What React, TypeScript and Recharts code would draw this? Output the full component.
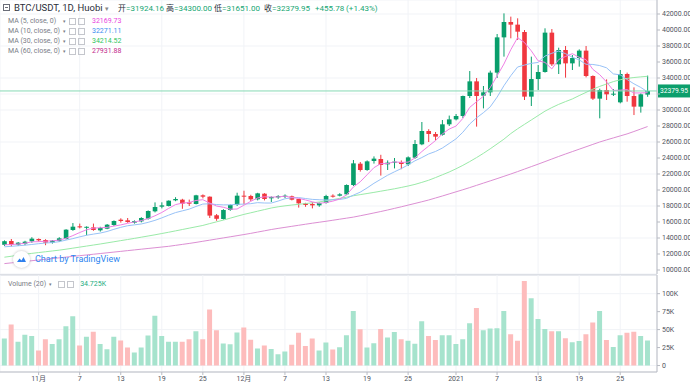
import React from 'react';
import { ComposedChart, Bar, Line, XAxis, YAxis, CartesianGrid, ReferenceLine, Cell } from 'recharts';

const dates = [
  '10-27', '10-28', '10-29', '10-30', '10-31',
  '11-01', '11-02', '11-03', '11-04', '11-05', '11-06', '11-07', '11-08', '11-09', '11-10',
  '11-11', '11-12', '11-13', '11-14', '11-15', '11-16', '11-17', '11-18', '11-19', '11-20',
  '11-21', '11-22', '11-23', '11-24', '11-25', '11-26', '11-27', '11-28', '11-29', '11-30',
  '12-01', '12-02', '12-03', '12-04', '12-05', '12-06', '12-07', '12-08', '12-09', '12-10',
  '12-11', '12-12', '12-13', '12-14', '12-15', '12-16', '12-17', '12-18', '12-19', '12-20',
  '12-21', '12-22', '12-23', '12-24', '12-25', '12-26', '12-27', '12-28', '12-29', '12-30', '12-31',
  '01-01', '01-02', '01-03', '01-04', '01-05', '01-06', '01-07', '01-08', '01-09', '01-10',
  '01-11', '01-12', '01-13', '01-14', '01-15', '01-16', '01-17', '01-18', '01-19', '01-20',
  '01-21', '01-22', '01-23', '01-24', '01-25', '01-26', '01-27', '01-28', '01-29',
];

const opens = [
  13150, 13625, 13170, 13290, 13580, 13875, 13750, 13415, 13625, 13875,
  15000, 15460, 15330, 15330, 14960, 15165, 15625, 16290, 16210, 15915,
  16080, 16415, 17335, 17915, 18000, 18710, 18790, 18460, 18250, 19335,
  19165, 16840, 16375, 17500, 18125, 19290, 19250, 18835, 19540, 18960,
  19080, 19125, 19210, 18875, 18330, 18250, 18080, 18375, 19290, 19290,
  19460, 20625, 23290, 22500, 23625, 23875, 23210, 23420, 23500, 23210,
  24040, 25710, 27375, 27000, 26900, 28210, 28830, 29250, 31750, 33580,
  31790, 32210, 34670, 39080, 41000, 40670, 39750, 31670, 33870, 34750,
  39670, 35710, 37500, 35830, 36500, 37420, 34250, 31420, 32500, 31960,
  30960, 34500, 31750, 30420, 31924.16,
];
const highs = [
  13700, 13875, 13500, 13650, 14100, 13950, 13850, 13750, 14100, 15100,
  15870, 15800, 15460, 15800, 15400, 15750, 16200, 16460, 16500, 16200,
  16600, 17450, 18450, 18460, 18700, 19100, 18900, 18800, 19400, 19450,
  19200, 17000, 17600, 18200, 19660, 19910, 19400, 19650, 19600, 19200,
  19350, 19450, 19300, 18900, 18400, 18500, 18450, 19400, 19460, 19600,
  20700, 23750, 23500, 23700, 24200, 24400, 23700, 24000, 23700, 24200,
  26250, 28500, 27600, 27250, 28750, 29300, 29500, 31800, 34870, 34000,
  33000, 34920, 39500, 42080, 41670, 41460, 40000, 36670, 35620, 40210,
  40120, 37790, 38000, 36870, 37580, 38000, 34330, 32670, 33830, 32600,
  35000, 34670, 32830, 32080, 34300,
];
const lows = [
  13000, 12950, 13000, 13100, 13400, 13550, 13100, 13300, 13500, 13800,
  14900, 15200, 14340, 14900, 14800, 15100, 15500, 15920, 15900, 15800,
  15950, 16300, 17200, 17700, 17950, 18600, 17650, 18000, 18200, 18950,
  16500, 16150, 16300, 17400, 18000, 18210, 18600, 18700, 18700, 18500,
  18900, 19000, 18700, 17800, 17900, 17700, 17900, 18300, 19050, 19200,
  19350, 20500, 22300, 22400, 23300, 21800, 22500, 22700, 22600, 23000,
  23900, 25600, 26000, 26200, 26800, 28000, 28700, 29000, 31500, 27920,
  30200, 31750, 34000, 36670, 38960, 38750, 31250, 30500, 32500, 34670,
  35500, 34500, 34040, 35000, 35420, 34080, 31250, 28960, 31250, 31750,
  30830, 31040, 29370, 29670, 31651,
];
const closes = [
  13600, 13125, 13415, 13540, 13920, 13710, 13415, 13665, 13960, 15040,
  15415, 15330, 15400, 15000, 15250, 15665, 16125, 16125, 16000, 16125,
  16500, 17375, 17875, 18080, 18665, 18875, 18290, 18290, 19335, 19165,
  16800, 16400, 17500, 18125, 19290, 19170, 18835, 19580, 18875, 19125,
  19250, 19290, 18790, 18330, 18125, 18080, 18375, 19250, 19210, 19460,
  20625, 23330, 22500, 23580, 23920, 23125, 23420, 23540, 23250, 24080,
  25750, 27375, 27000, 26670, 28210, 28830, 29250, 31750, 33580, 31750,
  32210, 34670, 39080, 41000, 40670, 39790, 31670, 33870, 34750, 39670,
  35710, 37500, 35830, 36500, 37420, 34250, 31420, 32500, 31960, 32040,
  34500, 31750, 30420, 31960, 32379.95,
];

// volume in thousands
const volumes = [
  37.5, 57, 33, 43, 41, 21, 36.5, 30, 36.5, 54.6,
  68.5, 27.8, 40, 47, 30, 22.7, 40, 35, 25, 18,
  25, 41.7, 69.4, 41, 33, 33, 33, 36.5, 47.7, 36.5,
  78, 49, 30.5, 29.6, 46, 52.8, 36, 23.6, 27.8, 23,
  15.7, 19.4, 29, 45.8, 27.3, 37.5, 20.8, 32, 22.2, 25.5,
  42.3, 76, 50.4, 25, 31, 51, 39, 46.6, 36.5, 34.5,
  30.4, 61.5, 41, 35.5, 42, 42, 30, 36.5, 59, 80,
  49, 51.7, 52, 76, 43.4, 34.5, 117.6, 93.5, 64.7, 50.8,
  47.6, 47.6, 37.8, 32.3, 34, 43.4, 60, 76, 35.5, 25.7,
  42, 45.6, 47, 41, 34.725,
];

const ma5 = [
  13146, 13181, 13244, 13342, 13520, 13542, 13600, 13650, 13734, 13958,
  14299, 14682, 15029, 15237, 15279, 15329, 15488, 15633, 15833, 16008,
  16175, 16425, 16775, 17191, 17699, 18174, 18357, 18440, 18691, 18791,
  18376, 17998, 17840, 17598, 17623, 18097, 18584, 19000, 19150, 19117,
  19133, 19224, 19066, 18957, 18757, 18523, 18340, 18432, 18608, 18875,
  19384, 20375, 21025, 21899, 22791, 23291, 23309, 23517, 23451, 23483,
  24008, 24799, 25491, 26175, 27001, 27617, 27992, 28942, 30324, 31032,
  31708, 32792, 34258, 35742, 37526, 39042, 38442, 37400, 36150, 35950,
  35134, 36300, 36692, 37042, 36592, 36300, 35084, 34418, 33510, 32434,
  32484, 32550, 32134, 32134, 32169.73,
];
const ma10 = [
  12900, 12960, 13030, 13100, 13190, 13290, 13370, 13430, 13540, 13739,
  13920, 14141, 14340, 14486, 14619, 14814, 15085, 15331, 15535, 15644,
  15752, 15957, 16204, 16512, 16854, 17175, 17391, 17608, 17941, 18245,
  18275, 18178, 18140, 18145, 18207, 18237, 18291, 18420, 18374, 18370,
  18615, 18904, 19033, 19054, 18937, 18828, 18782, 18749, 18783, 18816,
  18954, 19358, 19729, 20254, 20833, 21338, 21842, 22271, 22675, 23137,
  23650, 24054, 24504, 24813, 25242, 25813, 26396, 27217, 28250, 29017,
  29663, 30392, 31600, 33033, 34279, 35375, 35617, 35829, 35946, 36738,
  37088, 37371, 37046, 36596, 36271, 35717, 35692, 35555, 35276, 34513,
  34392, 33817, 33276, 32822, 32271.11,
];
const ma30 = [
  11600, 11720, 11840, 11960, 12080, 12180, 12280, 12380, 12480, 12600,
  12730, 12860, 12990, 13120, 13250, 13390, 13530, 13670, 13810, 13950,
  14100, 14250, 14400, 14560, 14720, 14890, 15060, 15230, 15400, 15570,
  15800, 16020, 16240, 16480, 16720, 16950, 17150, 17350, 17550, 17750,
  17900, 18020, 18120, 18210, 18300, 18400, 18500, 18650, 18800, 18950,
  19100, 19280, 19420, 19560, 19700, 19850, 20000, 20150, 20320, 20500,
  20700, 20950, 21220, 21550, 21900, 22250, 22650, 23080, 23550, 24050,
  24580, 25150, 25750, 26350, 27050, 27650, 28200, 28750, 29300, 29850,
  30300, 30700, 31050, 31380, 31800, 32200, 32600, 32950, 33250, 33550,
  33780, 33950, 34060, 34140, 34214.52,
];
const ma60 = [
  10800, 10890, 10980, 11070, 11160, 11250, 11340, 11430, 11520, 11610,
  11700, 11790, 11880, 11970, 12060, 12150, 12240, 12330, 12420, 12510,
  12600, 12690, 12780, 12870, 12960, 13080, 13200, 13320, 13450, 13590,
  13730, 13870, 14010, 14150, 14290, 14430, 14580, 14740, 14900, 15060,
  15200, 15330, 15460, 15590, 15720, 15850, 15970, 16090, 16220, 16350,
  16480, 16610, 16780, 16950, 17130, 17310, 17500, 17700, 17900, 18110,
  18320, 18530, 18750, 19000, 19250, 19510, 19770, 20030, 20300, 20580,
  20860, 21140, 21420, 21710, 22000, 22300, 22610, 22920, 23230, 23550,
  23870, 24190, 24500, 24800, 25100, 25400, 25700, 26000, 26260, 26510,
  26760, 27010, 27310, 27620, 27931.88,
];

const priceTicks = [10000, 12000, 14000, 16000, 18000, 20000, 22000, 24000, 26000, 28000, 30000, 32000, 34000, 36000, 38000, 40000, 42000];
const volumeTicks = [0, 25, 50, 75, 100];
const xTickDates = ['11-01', '11-07', '11-13', '11-19', '11-25', '12-01', '12-07', '12-13', '12-19', '12-25', '01-01', '01-07', '01-13', '01-19', '01-25'];
const xTickLabels = ['11月', '7', '13', '19', '25', '12月', '7', '13', '19', '25', '2021', '7', '13', '19', '25'];

const lastPrice = 32379.95;

const UP = '#089e6b';
const DOWN = '#f0373f';
const VOL_UP = '#a6e3cd';
const VOL_DOWN = '#fdbcbc';
const GRID = '#f1f3f7';
const AXIS = '#b8bbc3';
const FONT = 'Roboto, "Noto Sans CJK SC", sans-serif';

const rows = dates.map((d, i) => ({
  date: d,
  open: opens[i],
  high: highs[i],
  low: lows[i],
  close: closes[i],
  range: [lows[i], highs[i]],
  volume: volumes[i],
  ma5: ma5[i],
  ma10: ma10[i],
  ma30: ma30[i],
  ma60: ma60[i],
}));

const Candle = (props: any) => {
  const { x, y, width, height, payload } = props;
  const { open, close, high, low } = payload;
  const color = close >= open ? UP : DOWN;
  const span = high - low || 1;
  const toY = (v: number) => y + ((high - v) / span) * height;
  const cx = x + width / 2;
  const top = toY(Math.max(open, close));
  const bottom = toY(Math.min(open, close));
  const bw = width * 0.66;
  return (
    <g>
      <line x1={cx} x2={cx} y1={y} y2={y + height} stroke={color} strokeWidth={1} />
      <rect x={cx - bw / 2} y={top} width={bw} height={Math.max(bottom - top, 1)} fill={color} />
    </g>
  );
};

const PriceTag = (props: any) => {
  const { viewBox } = props;
  const x = viewBox.x + viewBox.width + 1;
  const y = viewBox.y;
  return (
    <g>
      <rect x={x} y={y - 6.5} width={33} height={13} fill="#0c9f6c" />
      <text x={x + 2} y={y + 2.5} fontSize={7} fill="#fff" textLength={28} lengthAdjust="spacingAndGlyphs">
        {lastPrice.toFixed(2)}
      </text>
    </g>
  );
};

// the last-price tag covers the nearest axis label, as in the terminal
const priceLabel = (v: number) => (Math.abs(v - lastPrice) < 1000 ? '' : v.toFixed(2));

const Box = () => (
  <span style={{ display: 'inline-block', width: 5, height: 5, border: '1px solid #c4c6cc', marginRight: 2, verticalAlign: 'middle' }} />
);

const maLegend = [
  { name: 'MA (5, close, 0)', value: '32169.73', color: '#e93fe0', top: 16 },
  { name: 'MA (10, close, 0)', value: '32271.11', color: '#3d8ef0', top: 26 },
  { name: 'MA (30, close, 0)', value: '34214.52', color: '#2fc55c', top: 36 },
  { name: 'MA (60, close, 0)', value: '27931.88', color: '#c22a8c', top: 46 },
];

const ohlc = [
  { k: '开', v: '=31924.16', left: 118 },
  { k: '高', v: '=34300.00', left: 166 },
  { k: '低', v: '=31651.00', left: 214 },
  { k: '收', v: '=32379.95', left: 264 },
];

export default function App() {
  return (
    <div style={{ position: 'relative', width: 690, height: 386, overflow: 'hidden', background: '#fff', fontFamily: FONT }}>
      <style>{'body{margin:0}'}</style>

      <div style={{ position: 'absolute', top: 0, left: 0 }}>
        <ComposedChart width={690} height={274} data={rows} margin={{ top: 0, right: 0, bottom: 0, left: 0 }} barCategoryGap={0} barGap={0}>
          <CartesianGrid stroke={GRID} />
          <XAxis dataKey="date" hide ticks={xTickDates} padding={{ left: 1, right: 6 }} />
          <YAxis
            orientation="right"
            width={33}
            domain={[9500, 43750]}
            allowDataOverflow
            ticks={priceTicks}
            tickFormatter={priceLabel}
            stroke={AXIS}
            tickSize={3}
            tickMargin={2}
            tick={{ fontSize: 7, fill: '#50535e' }}
          />
          <Line dataKey="ma60" stroke="#dc8fd3" dot={false} activeDot={false} strokeWidth={1} isAnimationActive={false} />
          <Line dataKey="ma30" stroke="#9aeaa8" dot={false} activeDot={false} strokeWidth={1} isAnimationActive={false} />
          <Line dataKey="ma10" stroke="#98c2f7" dot={false} activeDot={false} strokeWidth={1} isAnimationActive={false} />
          <Line dataKey="ma5" stroke="#f080e5" dot={false} activeDot={false} strokeWidth={1} isAnimationActive={false} />
          <ReferenceLine y={lastPrice} stroke="#86d9b5" strokeWidth={1} label={<PriceTag />} />
          <Bar dataKey="range" shape={(p: any) => <Candle {...p} />} isAnimationActive={false} />
        </ComposedChart>
      </div>

      <div style={{ position: 'absolute', top: 274, left: 0, width: 657, height: 2, background: '#dcdfe5' }} />

      <div style={{ position: 'absolute', top: 275, left: 0 }}>
        <ComposedChart width={690} height={111} data={rows} margin={{ top: 0, right: 0, bottom: 0, left: 0 }} barCategoryGap="12%">
          <CartesianGrid stroke={GRID} />
          <XAxis
            dataKey="date"
            ticks={xTickDates}
            tickFormatter={(v: string) => xTickLabels[xTickDates.indexOf(v)]}
            padding={{ left: 1, right: 6 }}
            height={14}
            stroke={AXIS}
            tickSize={3}
            tickMargin={1}
            tick={{ fontSize: 7, fill: '#50535e' }}
          />
          <YAxis
            orientation="right"
            width={33}
            domain={[-9, 126]}
            allowDataOverflow
            ticks={volumeTicks}
            tickFormatter={(v: number) => (v === 0 ? '0' : `${v}K`)}
            stroke={AXIS}
            tickSize={3}
            tickMargin={2}
            tick={{ fontSize: 7, fill: '#50535e' }}
          />
          <Bar dataKey="volume" isAnimationActive={false}>
            {rows.map((r, i) => (
              <Cell key={i} fill={r.close >= r.open ? VOL_UP : VOL_DOWN} />
            ))}
          </Bar>
        </ComposedChart>
      </div>

      {/* header legend */}
      <div style={{ position: 'absolute', top: 4, left: 3, width: 7, height: 7, border: '1px solid #6a6d78', boxSizing: 'border-box' }}>
        <div style={{ position: 'absolute', top: 2, left: 1, width: 3, height: 1, background: '#6a6d78' }} />
      </div>
      <div style={{ position: 'absolute', top: 2, left: 14, fontSize: 9.5, color: '#2a2e39', whiteSpace: 'nowrap', lineHeight: '12px' }}>
        BTC/USDT, 1D, Huobi <span style={{ fontSize: 7, color: '#888' }}>▾</span>
      </div>
      {ohlc.map((o) => (
        <div key={o.k} style={{ position: 'absolute', top: 3, left: o.left, fontSize: 8, whiteSpace: 'nowrap', lineHeight: '11px' }}>
          <span style={{ color: '#2a2e39' }}>{o.k}</span>
          <span style={{ color: '#16a673' }}>{o.v}</span>
        </div>
      ))}
      <div style={{ position: 'absolute', top: 3, left: 315, fontSize: 8, color: '#16a673', whiteSpace: 'nowrap', lineHeight: '11px' }}>
        +455.78 (+1.43%)
      </div>

      {maLegend.map((m) => (
        <div key={m.name} style={{ position: 'absolute', top: m.top, left: 8, fontSize: 7, color: '#7a7d86', whiteSpace: 'nowrap', lineHeight: '10px' }}>
          <span style={{ display: 'inline-block', width: 55 }}>{m.name}</span>
          <span style={{ fontSize: 5, marginRight: 3 }}>▾</span>
          <Box />
          <Box />
          <span style={{ color: m.color, marginLeft: 5 }}>{m.value}</span>
        </div>
      ))}

      <div style={{ position: 'absolute', top: 279, left: 8, fontSize: 7, color: '#7a7d86', whiteSpace: 'nowrap', lineHeight: '10px' }}>
        <span>Volume (20)</span>
        <span style={{ fontSize: 5, margin: '0 6px 0 3px' }}>▾</span>
        <Box />
        <Box />
        <span style={{ color: '#1aad80', marginLeft: 4 }}>34.725K</span>
      </div>

      {/* watermark logo */}
      <div style={{ position: 'absolute', top: 251, left: 13, width: 17, height: 17, borderRadius: '50%', background: '#fff', boxShadow: '0 0 3px rgba(0,0,0,0.25)' }}>
        <svg width={17} height={17} viewBox="0 0 17 17">
          <path d="M4 11 L6.5 7.5 L8.5 9.5 L10.5 6 L13 11 Z" fill="#2f80ed" />
        </svg>
      </div>
      <div style={{ position: 'absolute', top: 254, left: 35, fontSize: 9, color: '#2f86f0', whiteSpace: 'nowrap', lineHeight: '11px' }}>
        Chart by TradingView
      </div>
    </div>
  );
}
